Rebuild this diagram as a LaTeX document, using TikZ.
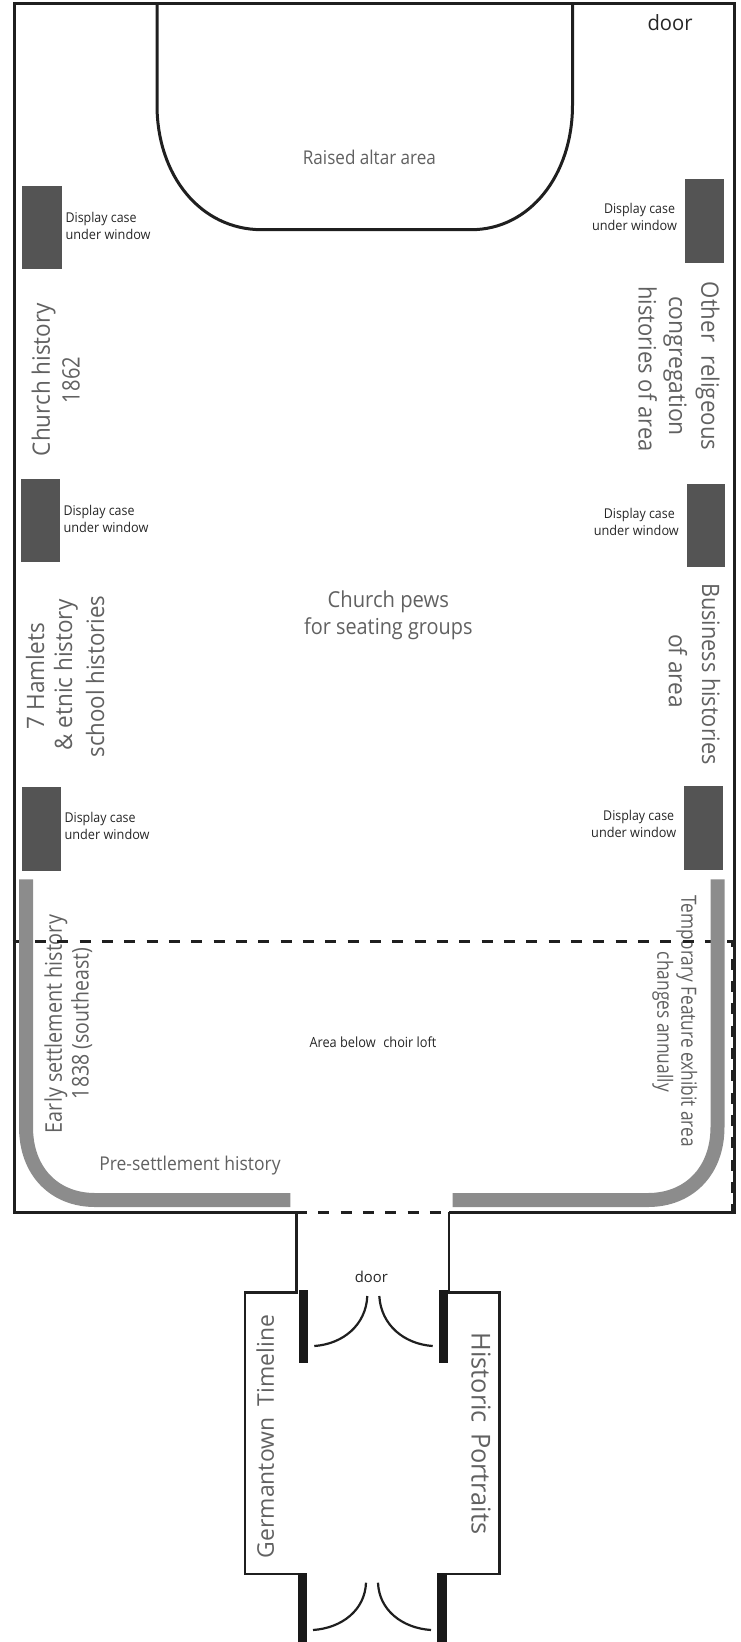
\documentclass[tikz,border=0pt]{standalone}
\usepackage{graphicx}
\usepackage{fontspec}
\setmainfont{Open Sans}
\newcommand\ft[3]{\resizebox{#2pt}{\height}{\fontsize{#1}{#1}\selectfont #3}}
\tikzset{
  wall/.style={line width=3pt,draw=black!88},
  thin wall/.style={line width=2.5pt,draw=black!88},
  dashline/.style={line width=3pt,draw=black!88,dash pattern=on 11pt off 11.33pt},
  casebox/.style={fill=black!67,draw=none},
  doorbar/.style={fill=black!90,draw=none},
  doorarc/.style={line width=2.2pt,draw=black!88},
  strip/.style={line width=14pt,draw=black!45},
  lab/.style={inner sep=0pt,text=black!62},
  darklab/.style={inner sep=0pt,text=black!85},
  up/.style={rotate=90},
  down/.style={rotate=-90}
}
\begin{document}
\begin{tikzpicture}[x=1pt,y=-1pt]
\useasboundingbox (0,0) rectangle (741,1642);
\clip (0,0) rectangle (741,1642);
% texts
\node[lab] (altar) at (369.4,157) {\ft{19}{133}{Raised altar area}};
\node[darklab] (doortop) at (670,23) {\ft{21}{45}{door}};
\node[lab] (pews1) at (388.3,601.6) {\ft{22}{121.4}{Church pews}};
\node[lab] (pews2) at (388.3,628.8) {\ft{22}{168.5}{for seating groups}};
\node[lab,up] (ch1) at (43.7,379.5) {\ft{24}{153}{Church history}};
\node[lab,up] (ch2) at (71,380) {\ft{24}{46}{1862}};
\node[lab,up] (h1) at (35,676) {\ft{24}{106}{7 Hamlets}};
\node[lab,up] (h2) at (66,675) {\ft{24}{151}{\&\ etnic history}};
\node[lab,up] (h3) at (95,676.5) {\ft{24}{162}{school histories}};
\node[lab,down] (o1) at (707.5,366) {\ft{24}{168.5}{Other\hspace{.35em} religeous}};
\node[lab,down] (o2) at (675,366) {\ft{24}{140}{congregation}};
\node[lab,down] (o3) at (647.7,369) {\ft{24}{165}{histories of area}};
\node[lab,down] (b1) at (711,674) {\ft{24}{182}{Business histories}};
\node[lab,down] (b2) at (678,671) {\ft{24}{74}{of area}};
\node[lab,up] (e1) at (56,1024) {\ft{23}{218}{Early settlement history}};
\node[lab,up] (e2) at (81.7,1023.5) {\ft{23}{151}{1838 (southeast)}};
\node[lab] (pre) at (190,1166) {\ft{19}{181.4}{Pre-settlement history}};
\node[lab,down] (t1) at (686.7,1021) {\ft{21}{252}{Temporary Feature exhibit area}};
\node[lab,down] (t2) at (662.7,1021.8) {\ft{21}{140}{changes annually}};
\node[darklab] (choir) at (373,1042.4) {\ft{14}{127}{Area below\hspace{.6em}choir loft}};
\node[darklab] (doorlow) at (371.3,1276.7) {\ft{15}{33}{door}};
\node[lab,up] (gt) at (265.2,1436.5) {\ft{23}{243}{Germantown\hspace{.5em}Timeline}};
\node[lab,down] (hp) at (481,1433.5) {\ft{26}{201.7}{Historic\hspace{.4em}Portraits}};
% display labels
\foreach \n/\x/\ya/\yb in {l1/65.4/218.6/234/,l2/63.3/511.7/527/,l3/64.4/819.4/834.7/}{
  \node[darklab,anchor=west] (\n a) at (\x,\ya) {\ft{13.5}{71}{Display case}};
  \node[darklab,anchor=west] (\n b) at (\x,\yb) {\ft{13.5}{85}{under window}};
}
\foreach \n/\xa/\xb/\ya/\yb in {r1/639.5/634.5/210.3/225.6,r2/639.3/636.3/514.8/530.2,r3/638.7/633.7/817.3/832.6}{
  \node[darklab] (\n a) at (\xa,\ya) {\ft{13.5}{71}{Display case}};
  \node[darklab] (\n b) at (\xb,\yb) {\ft{13.5}{85}{under window}};
}
% cases
\fill[casebox] (22.3,186) rectangle (62,269.3);
\fill[casebox] (21,478.5) rectangle (59.7,562);
\fill[casebox] (21.7,787) rectangle (60.7,871);
\fill[casebox] (685,179.3) rectangle (724.3,263.3);
\fill[casebox] (686.5,483.5) rectangle (725.3,567);
\fill[casebox] (684.3,786) rectangle (723.3,870);
% altar
\draw[wall] (157,4) -- (157,105) .. controls (157,175) and (200,229.7) .. (262,229.7)
  -- (471,229.7) .. controls (530,229.7) and (572.5,175) .. (572.5,105) -- (572.5,4);
% dashed
\draw[dashline] (12.67,941.7) -- (732.7,941.7) -- (732.7,1212);
\draw[dashline] (295.97,1212) -- (732.7,1212);
% strips
\draw[strip] (26,879.3) -- (26,1127) .. controls (26,1172) and (55,1200) .. (95,1200) -- (290.3,1200);
\draw[strip] (717.5,879.3) -- (717.5,1127) .. controls (717.5,1172) and (688,1200) .. (648,1200) -- (452.7,1200);
% walls
\draw[wall] (297,1212) -- (14,1212) -- (14,3.7) -- (734,3.7) -- (734,1212) -- (449,1212);
\draw[thin wall] (296.7,1212) -- (296.7,1292.7) -- (245,1292.7) -- (245,1574) -- (300,1574);
\draw[thin wall] (449,1212) -- (449,1292.7) -- (499.3,1292.7) -- (499.3,1574) -- (440,1574);
% doors
\fill[doorbar] (299,1290) rectangle (308.3,1363);
\fill[doorbar] (438.7,1290) rectangle (448,1363);
\fill[doorbar] (298,1573) rectangle (307,1642);
\fill[doorbar] (437.3,1573) rectangle (446.7,1642);
\draw[doorarc] (314.3,1346) .. controls (343,1344) and (366,1325) .. (367.3,1296);
\draw[doorarc] (432.7,1346) .. controls (404,1344) and (381,1325) .. (379.3,1296);
\draw[doorarc] (313,1630) .. controls (342,1628) and (365,1610) .. (366,1582.7);
\draw[doorarc] (431,1630) .. controls (402,1628) and (379,1610) .. (378,1582.7);
\end{tikzpicture}
\end{document}
